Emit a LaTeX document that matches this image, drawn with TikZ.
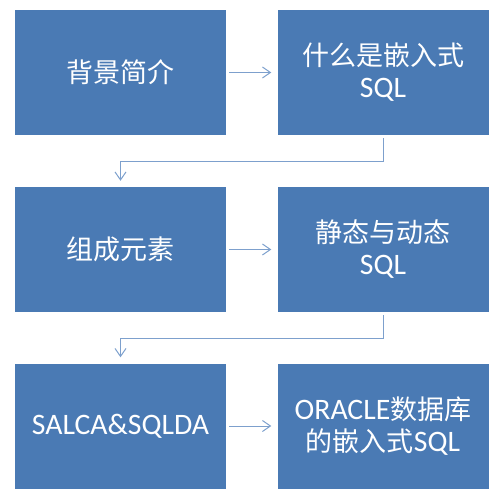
\documentclass[tikz,border=0pt]{standalone}
\usepackage{fontspec}
\setmainfont{Carlito}[Scale=1.1]
\newfontfamily\cjk{Noto Sans CJK SC}
\usetikzlibrary{arrows.meta}
\definecolor{boxblue}{RGB}{74,122,180}
\definecolor{linkblue}{RGB}{125,160,205}
\begin{document}
\begin{tikzpicture}[x=1pt, y=-1pt, ->, >={Straight Barb[length=8pt,width=11pt]}, shorten >= 6pt, shorten <= 3pt]
  \tikzstyle{node}=[rectangle, draw=none, fill=boxblue, minimum width=211pt, minimum height=125pt, inner sep=0pt, text=white, align=center, font=\fontsize{27}{32}\selectfont]
  \tikzstyle{link}=[draw=linkblue, line width=1pt]

  \useasboundingbox (0,0) rectangle (502,497);

  \node[node] (0) at (120.5, 72.5) {\cjk 背景简介};
  \node[node] (1) at (383, 72.5)   {\cjk 什么是嵌入式\\SQL};
  \node[node] (2) at (120.5, 249.5) {\cjk 组成元素};
  \node[node] (3) at (383, 249.5)   {\cjk 静态与动态\\SQL};
  \node[node] (4) at (120.5, 426)  {SALCA\&SQLDA};
  \node[node] (5) at (383, 426)    {ORACLE{\cjk 数据库}\\{\cjk 的嵌入式}SQL};

  \path[link] (0) edge (1);
  \path[link] (2) edge (3);
  \path[link] (4) edge (5);
  \draw[link] (1.south) -- ++(0,26) -| (2.north);
  \draw[link] (3.south) -- ++(0,26) -| (4.north);
\end{tikzpicture}
\end{document}
